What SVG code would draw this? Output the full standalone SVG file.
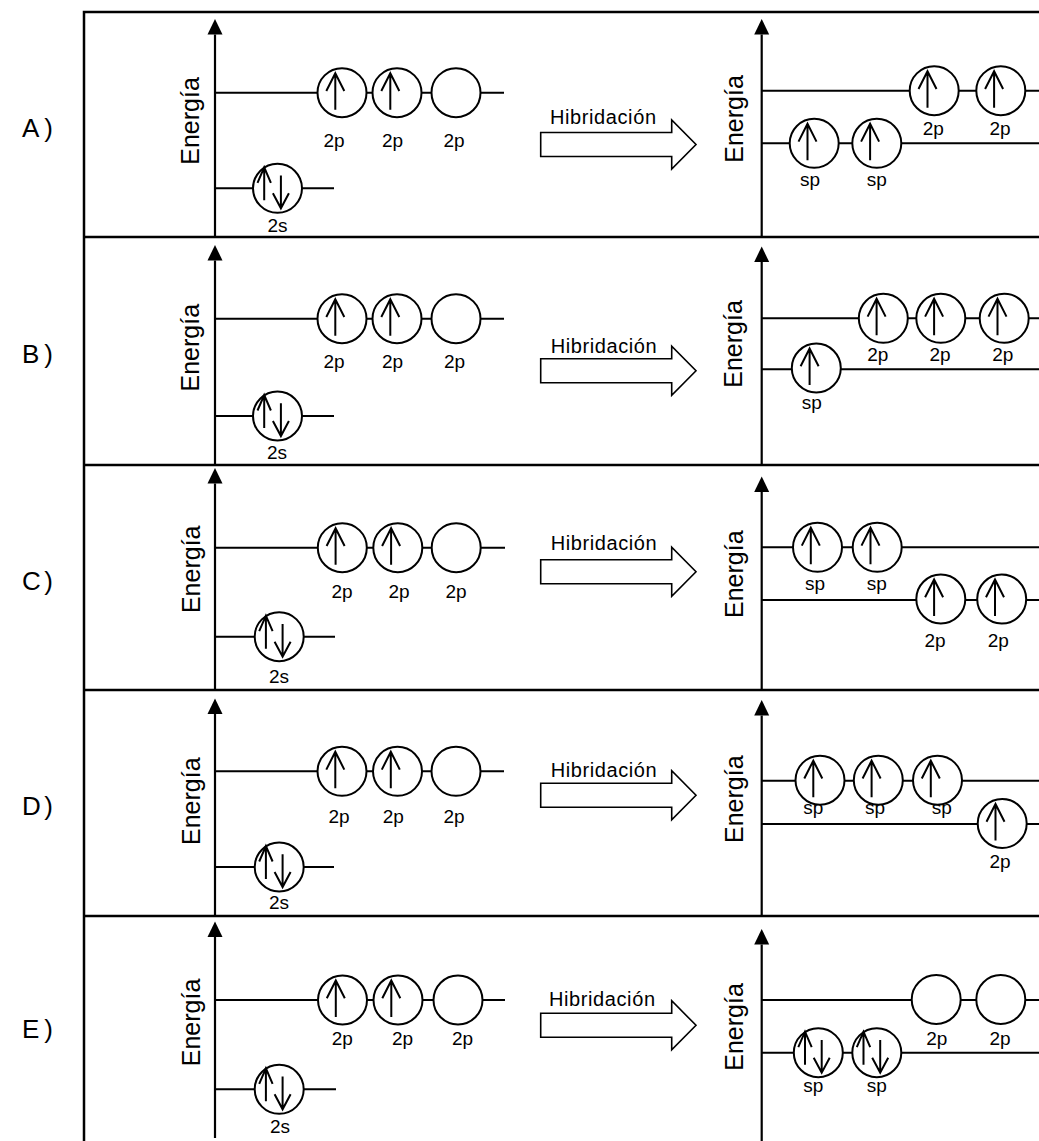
<svg xmlns="http://www.w3.org/2000/svg" width="1039" height="1141" viewBox="0 0 1039 1141">
<style>
text{font-family:"Liberation Sans",Arial,sans-serif;fill:#000}
.lbl{font-size:19px;text-anchor:middle}
.en{font-size:25px;text-anchor:middle}
.row{font-size:26px}
.hib{font-size:20px}
.ln{stroke:#000;stroke-width:2;fill:none}
.ax{stroke:#000;stroke-width:2.2;fill:none;marker-end:url(#ah)}
.big{fill:#fff;stroke:#000;stroke-width:1.6;stroke-linejoin:miter}
</style>
<defs>
<marker id="ah" markerUnits="userSpaceOnUse" markerWidth="16" markerHeight="16" refX="0" refY="8" orient="auto" viewBox="0 0 16 16">
<path d="M0,0.5 L15.5,8 L0,15.5 z" fill="#000"/>
</marker>
<g id="o"><circle r="24.5" fill="#fff" stroke="#000" stroke-width="2"/></g>
<g id="ou"><use href="#o"/><path d="M-6.7,17 V-19.5 M-15.7,-1.7 L-6.7,-19.5 L2.3,-1.7" fill="none" stroke="#000" stroke-width="2"/></g>
<g id="od"><use href="#o"/><path d="M-13.3,12 V-21 M-20,-5.5 L-13.3,-21 L-6.6,-5.5 M3.4,-12.7 V20 M-4.6,5 L3.4,20 L11.4,5" fill="none" stroke="#000" stroke-width="2"/></g>
<path id="bigarrow" d="M540.7,-12 H671.7 V-24.5 L696,0 L671.7,24.5 V12 H540.7 Z"/>
</defs>

<g id="frame">
<path d="M84,1141 V12 H1039 M84,237 H1039 M84,465 H1039 M84,690 H1039 M84,916 H1039" fill="none" stroke="#000" stroke-width="2.5"/>
</g>

<g id="row-labels">
<text class="row" x="22" y="137" textLength="31" lengthAdjust="spacing">A)</text>
<text class="row" x="22" y="363" textLength="31" lengthAdjust="spacing">B)</text>
<text class="row" x="22" y="590" textLength="31" lengthAdjust="spacing">C)</text>
<text class="row" x="22" y="815" textLength="31" lengthAdjust="spacing">D)</text>
<text class="row" x="22" y="1038" textLength="31" lengthAdjust="spacing">E)</text>
</g>

<g id="connectors">
<line class="ax" x1="215" y1="237" x2="215" y2="34.5"/>
<line class="ax" x1="761.7" y1="237" x2="761.7" y2="34.5"/>
<line class="ax" x1="215" y1="465" x2="215" y2="260.5"/>
<line class="ax" x1="761.7" y1="465" x2="761.7" y2="262"/>
<line class="ax" x1="215" y1="690" x2="215" y2="483.5"/>
<line class="ax" x1="761.7" y1="690" x2="761.7" y2="492"/>
<line class="ax" x1="215" y1="916" x2="215" y2="714"/>
<line class="ax" x1="761.7" y1="916" x2="761.7" y2="715.5"/>
<line class="ax" x1="215" y1="1138" x2="215" y2="937"/>
<line class="ax" x1="761.7" y1="1141" x2="761.7" y2="944.5"/>
<path class="ln" d="M215,92.7 H504 M215,188.3 H334 M215,318.7 H504 M215,416 H334 M215,547.7 H505 M215,636.7 H335 M215,771.3 H504 M215,867 H334 M215,1000 H505 M215,1089.3 H336"/>
<path class="ln" d="M761.7,90.7 H1039 M761.7,143.3 H1039 M761.7,318.3 H1039 M761.7,369.3 H1039 M761.7,547.3 H1039 M761.7,600 H1039 M761.7,780.7 H1039 M761.7,824 H1039 M761.7,1000 H1039 M761.7,1052.7 H1039"/>
<use href="#bigarrow" class="big" transform="translate(0,144.5)"/>
<use href="#bigarrow" class="big" transform="translate(0,370.8)"/>
<use href="#bigarrow" class="big" transform="translate(0,571.8)"/>
<use href="#bigarrow" class="big" transform="translate(0,795.2)"/>
<use href="#bigarrow" class="big" transform="translate(0,1025.3)"/>
</g>

<g id="panel-A">
<text class="en" transform="translate(199,121) rotate(-90)">Energía</text>
<use href="#ou" x="342" y="92.7"/><use href="#ou" x="397" y="92.7"/><use href="#o" x="456" y="92.7"/>
<text class="lbl" x="334" y="146.5">2p</text><text class="lbl" x="392.5" y="146.5">2p</text><text class="lbl" x="454" y="146.5">2p</text>
<use href="#od" x="277.5" y="188.3"/>
<text class="lbl" x="277.5" y="231.5">2s</text>
<text class="hib" x="550" y="124" textLength="106" lengthAdjust="spacing">Hibridación</text>
<text class="en" transform="translate(743,119) rotate(-90)">Energía</text>
<use href="#ou" x="934.2" y="90.7"/><use href="#ou" x="1000.8" y="90.7"/>
<use href="#ou" x="814.2" y="143.3"/><use href="#ou" x="876.8" y="143.3"/>
<text class="lbl" x="933.3" y="134.5">2p</text><text class="lbl" x="1000" y="134.5">2p</text>
<text class="lbl" x="810" y="185.5">sp</text><text class="lbl" x="876.7" y="185.5">sp</text>
</g>

<g id="panel-B">
<text class="en" transform="translate(199,347.7) rotate(-90)">Energía</text>
<use href="#ou" x="342" y="318.7"/><use href="#ou" x="397" y="318.7"/><use href="#o" x="456" y="318.7"/>
<text class="lbl" x="334" y="368">2p</text><text class="lbl" x="392.5" y="368">2p</text><text class="lbl" x="454.5" y="368">2p</text>
<use href="#od" x="277.5" y="416"/>
<text class="lbl" x="277" y="459.3">2s</text>
<text class="hib" x="550.7" y="352.7" textLength="106" lengthAdjust="spacing">Hibridación</text>
<text class="en" transform="translate(742,344) rotate(-90)">Energía</text>
<use href="#ou" x="883.3" y="318.3"/><use href="#ou" x="940.8" y="318.3"/><use href="#ou" x="1004.2" y="318.3"/>
<use href="#ou" x="816.3" y="368"/>
<text class="lbl" x="877.7" y="361">2p</text><text class="lbl" x="940" y="361">2p</text><text class="lbl" x="1002.7" y="361">2p</text>
<text class="lbl" x="811.7" y="408.5">sp</text>
</g>

<g id="panel-C">
<text class="en" transform="translate(200,569.3) rotate(-90)">Energía</text>
<use href="#ou" x="342.3" y="547.7"/><use href="#ou" x="397.8" y="547.7"/><use href="#o" x="456.2" y="547.7"/>
<text class="lbl" x="342" y="597.7">2p</text><text class="lbl" x="399" y="597.7">2p</text><text class="lbl" x="456" y="597.7">2p</text>
<use href="#od" x="279.2" y="636.7"/>
<text class="lbl" x="279" y="683.3">2s</text>
<text class="hib" x="550.7" y="550" textLength="106" lengthAdjust="spacing">Hibridación</text>
<text class="en" transform="translate(743,574.2) rotate(-90)">Energía</text>
<use href="#ou" x="817.5" y="547.3"/><use href="#ou" x="877.2" y="547.3"/>
<use href="#ou" x="940.8" y="599"/><use href="#ou" x="1001.7" y="599"/>
<text class="lbl" x="815" y="590">sp</text><text class="lbl" x="876.7" y="590">sp</text>
<text class="lbl" x="935" y="646.7">2p</text><text class="lbl" x="998.3" y="646.7">2p</text>
</g>

<g id="panel-D">
<text class="en" transform="translate(200,801.2) rotate(-90)">Energía</text>
<use href="#ou" x="342" y="771.3"/><use href="#ou" x="397.5" y="771.3"/><use href="#o" x="456" y="771.3"/>
<text class="lbl" x="339" y="822.7">2p</text><text class="lbl" x="393.3" y="822.7">2p</text><text class="lbl" x="454" y="822.7">2p</text>
<use href="#od" x="279.2" y="867"/>
<text class="lbl" x="279" y="908.7">2s</text>
<text class="hib" x="550.7" y="777.3" textLength="106" lengthAdjust="spacing">Hibridación</text>
<text class="en" transform="translate(743,799.2) rotate(-90)">Energía</text>
<use href="#ou" x="820" y="780.2"/><use href="#ou" x="878.3" y="780.2"/><use href="#ou" x="937.5" y="780.2"/>
<use href="#ou" x="1002.2" y="823.5"/>
<text class="lbl" x="813.3" y="813.5">sp</text><text class="lbl" x="875" y="813.5">sp</text><text class="lbl" x="941.7" y="813.5">sp</text>
<text class="lbl" x="1000" y="868.3">2p</text>
</g>

<g id="panel-E">
<text class="en" transform="translate(200,1022.5) rotate(-90)">Energía</text>
<use href="#ou" x="342.5" y="1000"/><use href="#ou" x="398" y="1000"/><use href="#o" x="458" y="1000"/>
<text class="lbl" x="342.3" y="1045">2p</text><text class="lbl" x="402.5" y="1045">2p</text><text class="lbl" x="462.5" y="1045">2p</text>
<use href="#od" x="279.2" y="1089.3"/>
<text class="lbl" x="280" y="1133.3">2s</text>
<text class="hib" x="549" y="1006" textLength="106" lengthAdjust="spacing">Hibridación</text>
<text class="en" transform="translate(743,1027) rotate(-90)">Energía</text>
<use href="#o" x="936.2" y="999.5"/><use href="#o" x="1000.8" y="999.5"/>
<use href="#od" x="818.3" y="1052.7"/><use href="#od" x="876.8" y="1052.7"/>
<text class="lbl" x="936.7" y="1045">2p</text><text class="lbl" x="1000" y="1045">2p</text>
<text class="lbl" x="813.3" y="1091.7">sp</text><text class="lbl" x="876.7" y="1091.7">sp</text>
</g>
</svg>
